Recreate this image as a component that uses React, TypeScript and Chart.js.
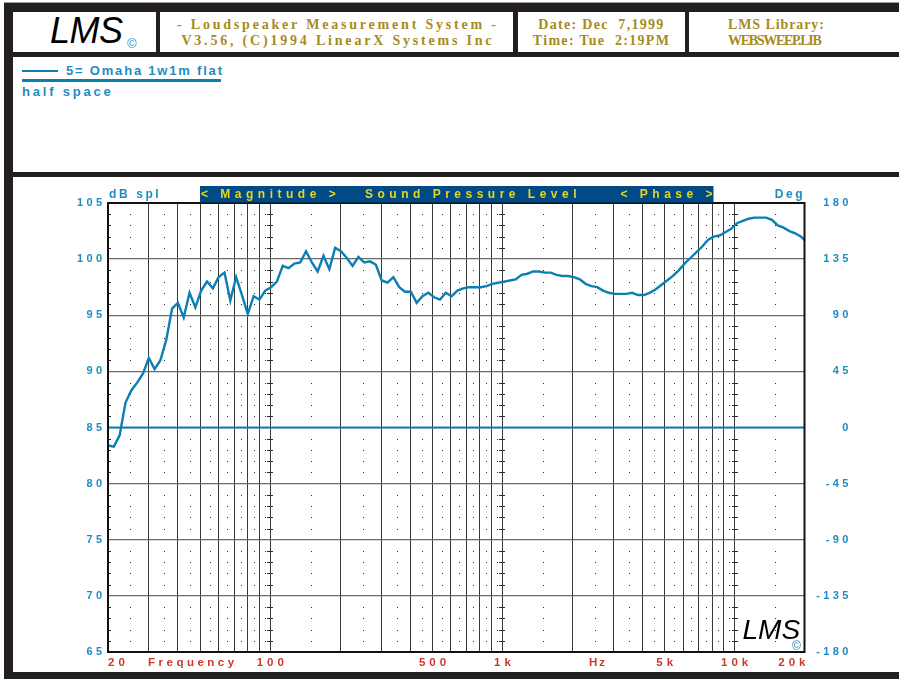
import React, { useEffect, useRef } from 'react';
import { Chart, registerables } from 'chart.js';

Chart.register(...registerables);

// 1/12-octave sweep frequencies (Hz)
const FREQ_HZ = [
  20, 21.19, 22.45, 23.78, 25.2, 26.7, 28.28, 29.97, 31.75, 33.64, 35.64, 37.76,
  40, 42.38, 44.9, 47.57, 50.4, 53.39, 56.57, 59.93, 63.5, 67.27, 71.27, 75.51,
  80, 84.76, 89.8, 95.14, 100.79, 106.78, 113.14, 119.87, 126.99, 134.54, 142.54, 151.02,
  160, 169.5, 179.6, 190.3, 201.6, 213.6, 226.3, 239.7, 254.0, 269.1, 285.1, 302.0,
  320, 339.0, 359.2, 380.6, 403.2, 427.1, 452.5, 479.5, 508.0, 538.2, 570.2, 604.1,
  640, 678.1, 718.4, 761.1, 806.3, 854.3, 905.1, 958.9, 1015.9, 1076.3, 1140.3, 1208.1,
  1280, 1356, 1437, 1522, 1613, 1709, 1810, 1918, 2032, 2153, 2281, 2416,
  2560, 2712, 2874, 3044, 3225, 3417, 3620, 3836, 4064, 4305, 4561, 4833,
  5120, 5424, 5747, 6089, 6451, 6834, 7241, 7671, 8128, 8611, 9123, 9665,
  10240, 10849, 11494, 12178, 12902, 13669, 14482, 15343, 16255, 17222, 18246, 19331,
  20480,
];

// Magnitude (dB SPL)
const MAG_DB = [
  83.4, 83.3, 84.3, 87.2, 88.3, 89.0, 89.8, 91.2, 90.2, 91.0,
  92.8, 95.6, 96.1, 94.8, 97.0, 95.7, 97.2, 98.0, 97.4, 98.4,
  98.8, 96.3, 98.4, 96.8, 95.1, 96.7, 96.4, 97.2, 97.5, 98.0,
  99.4, 99.2, 99.6, 99.7, 100.7, 99.7, 98.9, 100.3, 99.1, 101.0,
  100.7, 100.1, 99.4, 100.2, 99.7, 99.8, 99.5, 98.1, 97.9, 98.4,
  97.5, 97.1, 97.1, 96.1, 96.7, 97.0, 96.6, 96.4, 97.0, 96.7,
  97.2, 97.4, 97.5, 97.5, 97.5, 97.6, 97.8, 97.9, 98.0, 98.1,
  98.2, 98.6, 98.7, 98.9, 98.9, 98.8, 98.8, 98.6, 98.5, 98.5,
  98.4, 98.2, 97.8, 97.6, 97.5, 97.2, 97.0, 96.9, 96.9, 96.9,
  97.0, 96.8, 96.8, 97.0, 97.3, 97.7, 98.1, 98.5, 99.0, 99.6,
  100.1, 100.6, 101.1, 101.7, 102.0, 102.1, 102.4, 102.7, 103.2, 103.4,
  103.6, 103.7, 103.7, 103.7, 103.5, 103.0, 102.8, 102.5, 102.3, 102.0,
  101.5,
];

// Phase trace (deg)
const PHASE_HZ = [20, 20000];
const PHASE_DEG = [0, 0];

// Axis / grid values
const GRID_HZ = [20, 30, 40, 50, 60, 70, 80, 90, 100, 200, 300, 400, 500, 600, 700, 800, 900,
  1000, 2000, 3000, 4000, 5000, 6000, 7000, 8000, 9000, 10000, 20000];
const DOT_HZ = [25, 35, 45, 55, 65, 75, 85, 95, 150, 250, 350, 450, 550, 650, 750, 850, 950,
  1500, 2500, 3500, 4500, 5500, 6500, 7500, 8500, 9500, 15000];
const DECADE_HZ = [100, 1000, 10000];
const DB_TICKS = [65, 70, 75, 80, 85, 90, 95, 100, 105];
const DEG_TICKS = [-180, -135, -90, -45, 0, 45, 90, 135, 180];
const X_LABEL_HZ = [20, 100, 500, 1000, 5000, 10000, 20000];
const X_LABEL_TEXT = ['20', '100', '500', '1k', '5k', '10k', '20k'];

const BLACK = '#231f20';
const GOLD = '#a68b1d';
const BLUE_TXT = '#1f8bc2';
const CURVE = '#0b7fb4';
const RED = '#c9382a';
const SANS = '"Liberation Sans", Arial, sans-serif';
const SERIF = '"Liberation Serif", "Times New Roman", serif';
const LOGO = '"Liberation Sans", Arial, sans-serif';

function drawText(ctx: CanvasRenderingContext2D, s: string, x: number, y: number,
  align: 'left' | 'center' | 'right', spacing: number, font: string, color: string) {
  ctx.save();
  ctx.font = font;
  ctx.fillStyle = color;
  (ctx as any).letterSpacing = spacing + 'px';
  ctx.textBaseline = 'middle';
  ctx.textAlign = 'left';
  const w = ctx.measureText(s).width - spacing;
  const left = align === 'left' ? x : align === 'right' ? x - w : x - w / 2;
  ctx.fillText(s, left, y);
  ctx.restore();
}

const decorPlugin = {
  id: 'lmsDecor',
  beforeDraw(chart: any) {
    chart.ctx.letterSpacing = '3.4px';
  },
  beforeDatasetsDraw(chart: any) {
    const { ctx, chartArea: a, scales } = chart;
    const xs = scales.x;
    const ys = scales.y;
    ctx.save();
    (ctx as any).letterSpacing = '0px';
    ctx.fillStyle = '#2a2a2a';
    for (let db = 66; db < 105; db++) {
      if (db % 5 === 0) continue;
      const py = Math.round(ys.getPixelForValue(db));
      for (const f of DOT_HZ) {
        const px = Math.round(xs.getPixelForValue(f));
        ctx.fillRect(px, py, 1, 1);
      }
      for (const f of DECADE_HZ) {
        const px = Math.round(xs.getPixelForValue(f));
        ctx.fillRect(px - 3, py, 6, 1);
      }
      ctx.fillRect(Math.round(a.left), py, 3, 1);
    }
    ctx.restore();
  },
  afterDatasetsDraw(chart: any) {
    const { ctx, chartArea: a, scales } = chart;
    const xs = scales.x;
    ctx.save();
    (ctx as any).letterSpacing = '0px';
    ctx.strokeStyle = '#111';
    ctx.lineWidth = 2;
    ctx.strokeRect(a.left, a.top, a.right - a.left, a.bottom - a.top);

    // title bar
    const barL = a.left + 92;
    const barR = a.left + 605.5;
    ctx.fillStyle = '#014a85';
    ctx.fillRect(barL, a.top - 17, barR - barL, 16.5);
    const tf = `bold 12px ${SANS}`;
    const ty = a.top - 8;
    drawText(ctx, '< Magnitude >', barL + 1, ty, 'left', 4.5, tf, '#e4d71f');
    drawText(ctx, 'Sound Pressure Level', a.left + 257, ty, 'left', 4.5, tf, '#e4d71f');
    drawText(ctx, '< Phase >', barR - 1, ty, 'right', 4.5, tf, '#e4d71f');

    drawText(ctx, 'dB spl', a.left + 1, a.top - 8.5, 'left', 2.6, `bold 12px ${SANS}`, BLUE_TXT);
    drawText(ctx, 'Deg', a.right - 2, a.top - 8.5, 'right', 2.6, `bold 12px ${SANS}`, BLUE_TXT);

    // x labels
    const xf = `bold 11.5px ${SANS}`;
    const ly = a.bottom + 11;
    X_LABEL_HZ.forEach((f, i) => {
      const px = xs.getPixelForValue(f);
      const align = i === 0 ? 'left' : i === X_LABEL_HZ.length - 1 ? 'right' : 'center';
      drawText(ctx, X_LABEL_TEXT[i], align === 'left' ? a.left : align === 'right' ? a.right + 1 : px,
        ly, align as any, 4, xf, RED);
    });
    drawText(ctx, 'Frequency', a.left + 40, ly, 'left', 3.5, xf, RED);
    drawText(ctx, 'Hz', a.left + 481, ly, 'left', 2, xf, RED);

    // corner logo
    drawText(ctx, 'LMS', a.right - 62, a.bottom - 21, 'left', 0, `italic 28px ${LOGO}`, '#000');
    drawText(ctx, '\u00A9', a.right - 8, a.bottom - 5, 'center', 0, `12px ${SANS}`, BLUE_TXT);
    ctx.restore();
  },
};

export default function App() {
  const ref = useRef<HTMLCanvasElement>(null);

  useEffect(() => {
    const canvas = ref.current;
    if (!canvas) return;
    const tickFont = { family: '"Liberation Sans", Arial, sans-serif', size: 11, weight: 'bold' as const };
    const chart = new Chart(canvas, {
      type: 'line',
      data: {
        datasets: [
          {
            label: 'Magnitude',
            data: FREQ_HZ.map((f, i) => ({ x: f, y: MAG_DB[i] })),
            borderColor: CURVE,
            borderWidth: 2.4,
            pointRadius: 0,
            tension: 0,
            yAxisID: 'y',
          },
          {
            label: 'Phase',
            data: PHASE_HZ.map((f, i) => ({ x: f, y: PHASE_DEG[i] })),
            borderColor: CURVE,
            borderWidth: 2.2,
            pointRadius: 0,
            yAxisID: 'y2',
          },
        ],
      },
      options: {
        responsive: false,
        animation: false,
        events: [],
        layout: { padding: { top: 26, bottom: 20, left: 0, right: 47.2 } },
        plugins: { legend: { display: false }, tooltip: { enabled: false } },
        scales: {
          x: {
            type: 'logarithmic',
            min: 20,
            max: 20000,
            afterBuildTicks: (s: any) => { s.ticks = GRID_HZ.map((v) => ({ value: v })); },
            ticks: { display: false },
            grid: { color: '#3a3a3a', lineWidth: 1, drawTicks: false },
            border: { display: false },
          },
          y: {
            type: 'linear',
            position: 'left',
            min: 65,
            max: 105,
            afterBuildTicks: (s: any) => { s.ticks = DB_TICKS.map((v) => ({ value: v })); },
            afterFit: (s: any) => { s.width = 95; },
            ticks: { color: BLUE_TXT, font: tickFont, padding: 2.5, callback: (v: any) => String(v) },
            grid: { color: '#6a6a6a', lineWidth: 1.3, drawTicks: false },
            border: { display: false },
          },
          y2: {
            type: 'linear',
            position: 'right',
            min: -180,
            max: 180,
            afterBuildTicks: (s: any) => { s.ticks = DEG_TICKS.map((v) => ({ value: v })); },
            afterFit: (s: any) => { s.width = 47.3; },
            ticks: { color: BLUE_TXT, font: tickFont, crossAlign: 'far', callback: (v: any) => String(v) },
            grid: { display: false, drawTicks: false },
            border: { display: false },
          },
        },
      },
      plugins: [decorPlugin],
    } as any);
    return () => chart.destroy();
  }, []);

  const abs = (l: number, t: number, w: number, h: number, bg: string): React.CSSProperties => ({
    position: 'absolute', left: l, top: t, width: w, height: h, background: bg,
  });
  const headTxt: React.CSSProperties = {
    position: 'absolute', fontFamily: SERIF, fontWeight: 'bold', fontSize: 14, color: GOLD,
    lineHeight: '16px', whiteSpace: 'pre',
  };
  const legTxt: React.CSSProperties = {
    position: 'absolute', fontFamily: SANS, fontWeight: 'bold', fontSize: 13, color: BLUE_TXT,
    lineHeight: '14px', whiteSpace: 'pre',
  };

  return (
    <div style={{ position: 'absolute', left: 0, top: 0, width: 899, height: 679, background: '#fff', overflow: 'hidden' }}>
      {/* frame */}
      <div style={abs(4, 2, 895, 1, '#a0a0a0')} />
      <div style={abs(4, 3, 895, 9, BLACK)} />
      <div style={abs(4, 3, 9, 676, BLACK)} />
      <div style={abs(4, 52, 895, 5, BLACK)} />
      <div style={abs(4, 172, 895, 5, BLACK)} />
      <div style={abs(4, 672, 895, 7, BLACK)} />
      <div style={abs(156, 12, 4, 40, BLACK)} />
      <div style={abs(513, 12, 5, 40, BLACK)} />
      <div style={abs(685, 12, 4, 40, BLACK)} />

      {/* header */}
      <div style={{ position: 'absolute', left: 50, top: 9, fontFamily: LOGO, fontStyle: 'italic', fontWeight: 'normal', fontSize: 36, letterSpacing: -0.5, lineHeight: '44px', color: '#000' }}>LMS</div>
      <div style={{ position: 'absolute', left: 127, top: 37, fontFamily: SANS, fontSize: 13, color: BLUE_TXT, lineHeight: '14px' }}>©</div>
      <div style={{ ...headTxt, left: 160, top: 17, width: 353, textAlign: 'center', letterSpacing: 2.8, paddingLeft: 2.8, boxSizing: 'border-box' }}>
        {'- Loudspeaker Measurement System -\nV3.56, (C)1994 LinearX Systems Inc'}
      </div>
      <div style={{ ...headTxt, left: 518, top: 17, width: 167, textAlign: 'center', letterSpacing: 1.3 }}>
        {'Date: Dec  7,1999\nTime: Tue  2:19PM'}
      </div>
      <div style={{ ...headTxt, left: 728, top: 17, letterSpacing: 0.9 }}>LMS Library:</div>
      <div style={{ ...headTxt, left: 728, top: 33, letterSpacing: -1.3 }}>WEBSWEEP.LIB</div>

      {/* legend */}
      <div style={abs(22, 70, 36, 2, CURVE)} />
      <div style={{ ...legTxt, left: 66, top: 64, letterSpacing: 1.8 }}>5= Omaha 1w1m flat</div>
      <div style={abs(22, 79, 199, 2.5, CURVE)} />
      <div style={{ ...legTxt, left: 22, top: 85, letterSpacing: 2.8 }}>half space</div>

      <canvas ref={ref} width={886} height={495} style={{ position: 'absolute', left: 13, top: 177, width: 886, height: 495 }} />
    </div>
  );
}
